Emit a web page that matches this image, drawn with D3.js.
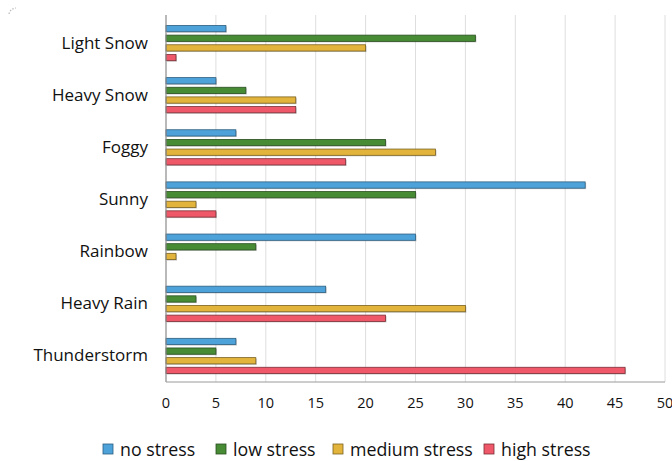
<!DOCTYPE html>
<html>
<head>
<meta charset="utf-8">
<script src="https://cdn.jsdelivr.net/npm/d3@7"></script>
<style>
  html, body { margin: 0; padding: 0; background: #fff; }
  svg { display: block; }
  text { font-family: "Open Sans", "Noto Sans", sans-serif; fill: #111; }
</style>
</head>
<body>
<svg id="chart" width="672" height="461"></svg>
<script>
// Weather conditions and stress-level counts
const categories = ["Light Snow", "Heavy Snow", "Foggy", "Sunny", "Rainbow", "Heavy Rain", "Thunderstorm"];
const seriesNames = ["no stress", "low stress", "medium stress", "high stress"];
const noStress     = [6, 5, 7, 42, 25, 16, 7];
const lowStress    = [31, 8, 22, 25, 9, 3, 5];
const mediumStress = [20, 13, 27, 3, 1, 30, 9];
const highStress   = [1, 13, 18, 5, 0, 22, 46];
const xTicks = [0, 5, 10, 15, 20, 25, 30, 35, 40, 45, 50];

const seriesValues = [noStress, lowStress, mediumStress, highStress];
const fills   = ["#4ea2da", "#478b35", "#e3b43c", "#ee5868"];
const strokes = ["#2c5f80", "#2a4f20", "#7a6220", "#7c2e36"];

const svg = d3.select("#chart");
const margin = { left: 166, right: 7, top: 17, bottom: 79 };
const W = 672, H = 461;

const x = d3.scaleLinear().domain([0, 50]).range([margin.left, W - margin.right]);
const y = d3.scaleBand().domain(categories).range([margin.top, H - margin.bottom]);
const ys = d3.scaleBand().domain(seriesNames)
  .range([7.5, y.bandwidth() - 7.5]).paddingInner(0.35).paddingOuter(0.1);

// faint dotted arc in the top-left corner
svg.append("path")
  .attr("d", "M9,14 Q10,9 16,8")
  .attr("fill", "none").attr("stroke", "#bbb")
  .attr("stroke-width", 1.2).attr("stroke-dasharray", "1.5,1.5");

// vertical gridlines
svg.append("g").selectAll("line").data(xTicks.slice(1)).join("line")
  .attr("x1", d => x(d)).attr("x2", d => x(d))
  .attr("y1", 15).attr("y2", H - margin.bottom)
  .attr("stroke", "#dedede").attr("stroke-width", 1);

// bars
const groups = svg.append("g").selectAll("g").data(categories).join("g")
  .attr("transform", d => `translate(0,${y(d)})`);

seriesNames.forEach((s, si) => {
  const vals = seriesValues[si];
  // soft drop shadow
  groups.filter((c, ci) => vals[ci] > 0).append("rect")
    .attr("x", x(0) + 1)
    .attr("y", ys(s) + 1)
    .attr("width", (c) => x(vals[categories.indexOf(c)]) - x(0))
    .attr("height", ys.bandwidth())
    .attr("fill", "#000").attr("opacity", 0.22);
  groups.filter((c, ci) => vals[ci] > 0).append("rect")
    .attr("x", x(0))
    .attr("y", ys(s))
    .attr("width", (c) => x(vals[categories.indexOf(c)]) - x(0))
    .attr("height", ys.bandwidth())
    .attr("fill", fills[si])
    .attr("stroke", strokes[si]).attr("stroke-width", 0.8);
});

// axes lines
svg.append("line")
  .attr("x1", x(0)).attr("x2", x(0))
  .attr("y1", 15).attr("y2", H - margin.bottom)
  .attr("stroke", "#8a8a8a").attr("stroke-width", 1.2);
svg.append("line")
  .attr("x1", x(0)).attr("x2", x(50))
  .attr("y1", H - margin.bottom).attr("y2", H - margin.bottom)
  .attr("stroke", "#9a9a9a").attr("stroke-width", 1);

// category labels
svg.append("g").selectAll("text").data(categories).join("text")
  .attr("x", 148)
  .attr("y", d => y(d) + y.bandwidth() / 2 - 1)
  .attr("text-anchor", "end")
  .attr("dominant-baseline", "central")
  .style("font-size", "17px")
  .text(d => d);

// x tick labels
svg.append("g").selectAll("text").data(xTicks).join("text")
  .attr("x", d => x(d))
  .attr("y", 402)
  .attr("text-anchor", "middle")
  .attr("dominant-baseline", "central")
  .style("font-size", "14.5px")
  .text(d => d);

// legend
const legendX = [103, 216, 333, 484];
const legend = svg.append("g").selectAll("g").data(seriesNames).join("g")
  .attr("transform", (d, i) => `translate(${legendX[i]},449)`);
legend.append("rect")
  .attr("x", 0).attr("y", -5).attr("width", 10).attr("height", 10)
  .attr("fill", (d, i) => fills[i])
  .attr("stroke", (d, i) => strokes[i]).attr("stroke-width", 0.8);
legend.append("text")
  .attr("x", 17).attr("y", 0)
  .attr("dominant-baseline", "central")
  .style("font-size", "17.8px")
  .text(d => d);
</script>
</body>
</html>
